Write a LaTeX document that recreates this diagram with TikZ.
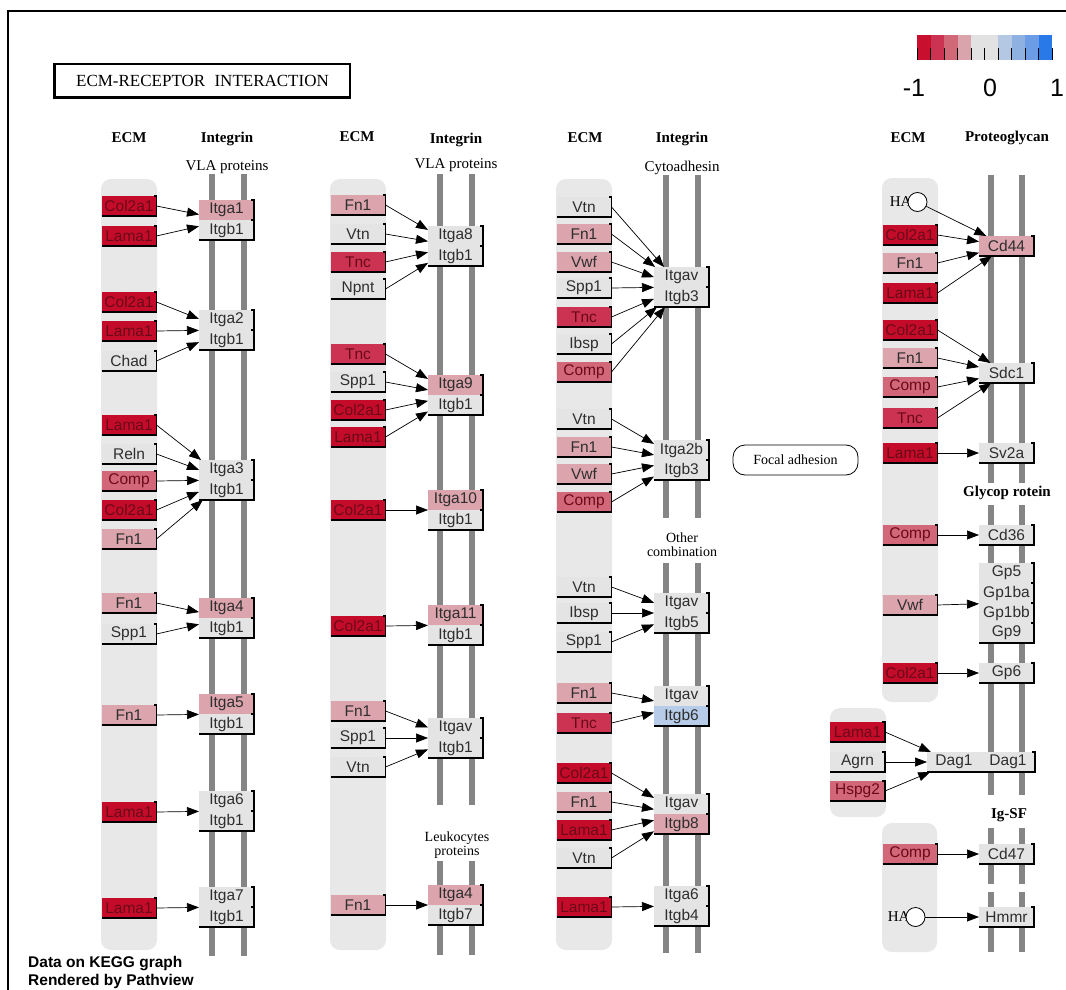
\documentclass[tikz,border=0pt]{standalone}
\usepackage{fontspec}
\setmainfont{Liberation Serif}
\newfontfamily\arialf{Liberation Sans}
\usetikzlibrary{arrows.meta}
\definecolor{cdark}{HTML}{C40C2A}
\definecolor{cred}{HTML}{CC3352}
\definecolor{cmed}{HTML}{D26779}
\definecolor{cpink}{HTML}{DCA4AC}
\definecolor{cgray}{HTML}{E4E4E4}
\definecolor{cblue}{HTML}{B7CCE8}
\definecolor{lanec}{HTML}{E8E8E8}
\definecolor{barc}{HTML}{858585}
\definecolor{tdark}{HTML}{6A0A18}
\definecolor{tgray}{HTML}{2E2E2E}
\tikzset{
  gene/.style={rectangle, minimum width=55pt, minimum height=20pt, inner sep=0pt, outer sep=0pt,
    font=\arialf\fontsize{15.5}{17}\selectfont},
  cD/.style={fill=cdark, text=tdark},
  cR/.style={fill=cred, text=tdark},
  cM/.style={fill=cmed, text=tdark},
  cP/.style={fill=cpink, text=tgray},
  cG/.style={fill=cgray, text=tgray},
  cB/.style={fill=cblue, text=tgray},
  pairbox/.style={rectangle, minimum width=55pt, minimum height=40pt, inner sep=0pt, outer sep=0pt},
  bd/.style={draw=black, line width=1.2pt},
  ar/.style={-{Triangle[length=12pt,width=9pt]}, line width=0.7pt, draw=black},
  lane/.style={fill=lanec, rounded corners=10pt},
  bar/.style={draw=barc, line width=6pt},
  hdr/.style={font=\bfseries\fontsize{15}{17}\selectfont},
  sub/.style={font=\fontsize{15}{17}\selectfont},
  sub2/.style={font=\fontsize{14}{14}\selectfont, align=center},
}
\newcommand{\gn}[5]{%
  \node[gene,#5] (#1) at (#2,#3) {#4};
  \draw[bd] (#1.south west) -- (#1.south east) -- (#1.north east) -- ++(-3,0);
}
\newcommand{\gnnb}[5]{%
  \node[gene,#5] (#1) at (#2,#3) {#4};
  \draw[bd] (#1.south east) -- (#1.north east) -- ++(-3,0);
}
\newcommand{\ip}[7]{%
  \node[gene,#5,anchor=south] (#1a) at (#2,#3) {#4};
  \node[gene,#7,anchor=north] (#1b) at (#2,#3) {#6};
  \node[pairbox] (#1) at (#2,#3) {};
  \draw[bd] (#1a.south east) -- (#1a.north east) -- ++(-3,0);
  \draw[bd] (#1b.south west) -- (#1b.south east) -- (#1b.north east) -- ++(-3,0);
}
\begin{document}
\begin{tikzpicture}[x=1pt,y=-1pt]
\useasboundingbox (0,0) rectangle (1066,990);
\fill[white] (0,0) rectangle (1066,990);
% frame
\draw[line width=1.5pt] (8,995) -- (8,11) -- (1070,11);
% title
\node[draw=black, line width=1.5pt, minimum width=295pt, minimum height=33pt, inner sep=0pt,
  font=\fontsize{17}{18}\selectfont] (title) at (202.5,80.5) {ECM-RECEPTOR\hspace{0.3em} INTERACTION};
\draw[line width=3pt] (title.north west) -- (title.south west) -- (title.south east);
% legend
\foreach \c [count=\i from 0] in {C8102E,CC3352,D06878,D9A4AC,E2E2E2,E2E2E2,B4C8E4,8FB1E2,6C9CE5,2979E8}{
  \definecolor{lgc}{HTML}{\c}
  \fill[lgc] (917+\i*13.5,35) rectangle (917+\i*13.5+13.5,60);
}
\foreach \i in {0,...,10}{ \draw[line width=0.8pt] (917+\i*13.5,48) -- (917+\i*13.5,60); }
\node[font=\arialf\fontsize{25}{26}\selectfont] (lgm) at (914,88) {-1};
\node[font=\arialf\fontsize{25}{26}\selectfont] (lg0) at (990,88) {0};
\node[font=\arialf\fontsize{25}{26}\selectfont] (lgp) at (1057,88) {1};
% lanes
\path[lane] (101,179) rectangle (157,950);
\path[lane] (330,179) rectangle (386,950);
\path[lane] (556,179) rectangle (612,950);
\path[lane] (882,178) rectangle (938,702);
\path[lane] (830,708) rectangle (886,817);
\path[lane] (882,823) rectangle (937,952);
% bars
\draw[bar] (211.5,174) -- (211.5,956); \draw[bar] (244,174) -- (244,956);
\draw[bar] (440,174) -- (440,805); \draw[bar] (472,174) -- (472,805);
\draw[bar] (440,861) -- (440,955); \draw[bar] (472,861) -- (472,955);
\draw[bar] (666,175) -- (666,518); \draw[bar] (698,175) -- (698,518);
\draw[bar] (666,563) -- (666,953); \draw[bar] (698,563) -- (698,953);
\foreach \xx in {991,1022}{
  \draw[bar] (\xx,175) -- (\xx,483);
  \draw[bar] (\xx,505) -- (\xx,795);
  \draw[bar] (\xx,828) -- (\xx,884);
  \draw[bar] (\xx,892) -- (\xx,952);
}
% headers
\node[hdr] (h1) at (129,138) {ECM};
\node[hdr] (h2) at (227,139) {Integrin};
\node[sub] (h3) at (227,167) {VLA proteins};
\node[hdr] (h4) at (357,137) {ECM};
\node[hdr] (h5) at (456,140) {Integrin};
\node[sub] (h6) at (456,165) {VLA proteins};
\node[hdr] (h7) at (585,138) {ECM};
\node[hdr] (h8) at (682,139) {Integrin};
\node[sub] (h9) at (682,168) {Cytoadhesin};
\node[hdr] (h10) at (908,138) {ECM};
\node[hdr] (h11) at (1007,138) {Proteoglycan};
\node[hdr] (h12) at (1007,493) {Glycop rotein};
\node[hdr] (h13) at (1009,815) {Ig-SF};
\node[sub2] (h14) at (682,545) {Other\\combination};
\node[sub2] (h15) at (457,845) {Leukocytes\\proteins};
\node[draw=black, line width=0.8pt, rounded corners=12pt, minimum width=125pt, minimum height=30pt,
  font=\fontsize{14}{15}\selectfont] (fa) at (795.5,460) {Focal adhesion};
% ---------- column 1
\gn{a1}{129}{206}{Col2a1}{cD}
\gn{a2}{129}{236}{Lama1}{cD}
\ip{p1}{226.5}{220}{Itga1}{cP}{Itgb1}{cG}
\gn{a3}{129}{302}{Col2a1}{cD}
\gn{a4}{129}{331}{Lama1}{cD}
\gn{a5}{129}{361}{Chad}{cG}
\ip{p2}{226.5}{330}{Itga2}{cG}{Itgb1}{cG}
\gn{a6}{129}{425}{Lama1}{cD}
\gn{a7}{129}{454}{Reln}{cG}
\gn{a8}{129}{481}{Comp}{cM}
\gn{a9}{129}{510}{Col2a1}{cD}
\gn{a10}{129}{539}{Fn1}{cP}
\ip{p3}{226.5}{480}{Itga3}{cG}{Itgb1}{cG}
\gn{a11}{129}{603}{Fn1}{cP}
\gn{a12}{129}{634}{Spp1}{cG}
\ip{p4}{226.5}{618}{Itga4}{cP}{Itgb1}{cG}
\gn{a13}{129}{715}{Fn1}{cP}
\ip{p5}{226.5}{714}{Itga5}{cP}{Itgb1}{cG}
\gn{a14}{129}{812}{Lama1}{cD}
\ip{p6}{226.5}{811}{Itga6}{cG}{Itgb1}{cG}
\gn{a15}{129}{908}{Lama1}{cD}
\ip{p7}{226.5}{907}{Itga7}{cG}{Itgb1}{cG}
\foreach \s/\t in {a1/p1,a2/p1,a3/p2,a4/p2,a5/p2,a6/p3,a7/p3,a8/p3,a9/p3,a10/p3,a11/p4,a12/p4,a13/p5,a14/p6,a15/p7}
  \draw[ar] (\s.east) -- (\t);
% ---------- column 2
\gn{b1}{358}{205}{Fn1}{cP}
\gn{b2}{358}{234}{Vtn}{cG}
\gn{b3}{358}{262}{Tnc}{cR}
\gn{b4}{358}{289}{Npnt}{cG}
\ip{q1}{455.5}{246}{Itga8}{cG}{Itgb1}{cG}
\gn{b5}{358}{354}{Tnc}{cR}
\gn{b6}{358}{382}{Spp1}{cG}
\gn{b7}{358}{410}{Col2a1}{cD}
\gn{b8}{358}{437}{Lama1}{cD}
\ip{q2}{455.5}{395}{Itga9}{cP}{Itgb1}{cG}
\gn{b9}{358}{510}{Col2a1}{cD}
\ip{q3}{455.5}{510}{Itga10}{cP}{Itgb1}{cG}
\gn{b10}{358}{626}{Col2a1}{cD}
\ip{q4}{455.5}{625}{Itga11}{cP}{Itgb1}{cG}
\gn{b11}{358}{711}{Fn1}{cP}
\gn{b12}{358}{738}{Spp1}{cG}
\gn{b13}{358}{767}{Vtn}{cG}
\ip{q5}{455.5}{738}{Itgav}{cG}{Itgb1}{cG}
\gn{b14}{358}{905}{Fn1}{cP}
\ip{q6}{455.5}{905}{Itga4}{cP}{Itgb7}{cG}
\foreach \s/\t in {b1/q1,b2/q1,b3/q1,b4/q1,b5/q2,b6/q2,b7/q2,b8/q2,b9/q3,b10/q4,b11/q5,b12/q5,b13/q5,b14/q6}
  \draw[ar] (\s.east) -- (\t);
% ---------- column 3
\gn{c1}{584}{207}{Vtn}{cG}
\gn{c2}{584}{234}{Fn1}{cP}
\gn{c3}{584}{262}{Vwf}{cP}
\gn{c4}{584}{288}{Spp1}{cG}
\gn{c5}{584}{317}{Tnc}{cR}
\gn{c6}{584}{344}{Ibsp}{cG}
\gn{c7}{584}{372}{Comp}{cM}
\ip{r1}{681.5}{287}{Itgav}{cG}{Itgb3}{cG}
\gn{c8}{584}{419}{Vtn}{cG}
\gn{c9}{584}{447}{Fn1}{cP}
\gn{c10}{584}{474}{Vwf}{cP}
\gn{c11}{584}{502}{Comp}{cM}
\ip{r2}{681.5}{460}{Itga2b}{cG}{Itgb3}{cG}
\gn{c12}{584}{587}{Vtn}{cG}
\gn{c13}{584}{613}{Ibsp}{cG}
\gn{c14}{584}{642}{Spp1}{cG}
\ip{r3}{681.5}{613}{Itgav}{cG}{Itgb5}{cG}
\gn{c15}{584}{693}{Fn1}{cP}
\gn{c16}{584}{723}{Tnc}{cR}
\ip{r4}{681.5}{706}{Itgav}{cG}{Itgb6}{cB}
\gn{c17}{584}{773}{Col2a1}{cD}
\gn{c18}{584}{802}{Fn1}{cP}
\gn{c19}{584}{830}{Lama1}{cD}
\gn{c20}{584}{858}{Vtn}{cG}
\ip{r5}{681.5}{814}{Itgav}{cG}{Itgb8}{cP}
\gn{c21}{584}{907}{Lama1}{cD}
\ip{r6}{681.5}{906}{Itga6}{cG}{Itgb4}{cG}
\foreach \s/\t in {c1/r1,c2/r1,c3/r1,c4/r1,c5/r1,c6/r1,c7/r1,c8/r2,c9/r2,c10/r2,c11/r2,c12/r3,c13/r3,c14/r3,c15/r4,c16/r4,c17/r5,c18/r5,c19/r5,c20/r5,c21/r6}
  \draw[ar] (\s.east) -- (\t);
% ---------- column 4
\node[font=\fontsize{15}{16}\selectfont, anchor=east] (hat1) at (915,202) {HA};
\node[circle, draw=black, line width=0.8pt, fill=white, minimum size=19pt, inner sep=0pt] (ha1) at (917.5,202) {};
\gn{d1}{910}{235}{Col2a1}{cD}
\gn{d2}{910}{263}{Fn1}{cP}
\gn{d3}{910}{293}{Lama1}{cD}
\gn{t1}{1006.5}{246}{Cd44}{cP}
\gn{d4}{910}{330}{Col2a1}{cD}
\gn{d5}{910}{358}{Fn1}{cP}
\gn{d6}{910}{387}{Comp}{cM}
\gn{d7}{910}{418}{Tnc}{cR}
\gn{t2}{1006.5}{373}{Sdc1}{cG}
\gn{d8}{910}{453}{Lama1}{cD}
\gn{t3}{1006.5}{453}{Sv2a}{cG}
\gn{d9}{910}{535}{Comp}{cM}
\gn{t4}{1006.5}{535}{Cd36}{cG}
\gn{d10}{910}{605}{Vwf}{cP}
\gnnb{t5}{1006.5}{573}{Gp5}{cG}
\gnnb{t6}{1006.5}{593}{Gp1ba}{cG}
\gnnb{t7}{1006.5}{613}{Gp1bb}{cG}
\gn{t8}{1006.5}{633}{Gp9}{cG}
\node[rectangle, minimum width=55pt, minimum height=80pt, inner sep=0pt, outer sep=0pt] (gps) at (1006.5,603) {};
\gn{d11}{910}{673}{Col2a1}{cD}
\gn{t9}{1006.5}{673}{Gp6}{cG}
\gn{e1}{857.5}{732}{Lama1}{cD}
\gn{e2}{857.5}{762}{Agrn}{cG}
\gn{e3}{857.5}{791}{Hspg2}{cM}
\node[gene,cG,minimum width=54pt] (t10) at (954,762) {Dag1};
\node[gene,cG,minimum width=54pt] (t11) at (1008,762) {Dag1};
\draw[bd] (t10.south west) -- (t11.south east) -- (t11.north east) -- ++(-3,0);
\gn{d12}{910}{854}{Comp}{cM}
\gn{t12}{1006.5}{854}{Cd47}{cG}
\node[font=\fontsize{15}{16}\selectfont, anchor=east] (hat2) at (913,917) {HA};
\node[circle, draw=black, line width=0.8pt, fill=white, minimum size=19pt, inner sep=0pt] (ha2) at (915.5,917) {};
\gn{t13}{1006.5}{917}{Hmmr}{cG}
\draw[ar] (ha1) -- (t1);
\foreach \s/\t in {d1/t1,d2/t1,d3/t1,d4/t2,d5/t2,d6/t2,d7/t2,d8/t3,d9/t4,d10/gps,d11/t9,e1/t10,e2/t10,e3/t10,d12/t12}
  \draw[ar] (\s.east) -- (\t);
\draw[ar] (ha2) -- (t13);
% footer
\node[font=\arialf\bfseries\fontsize{15.5}{18}\selectfont, align=left, anchor=north west, inner sep=0pt] (foot) at (28,956) {Data on KEGG graph\\Rendered by Pathview};
\end{tikzpicture}
\end{document}
